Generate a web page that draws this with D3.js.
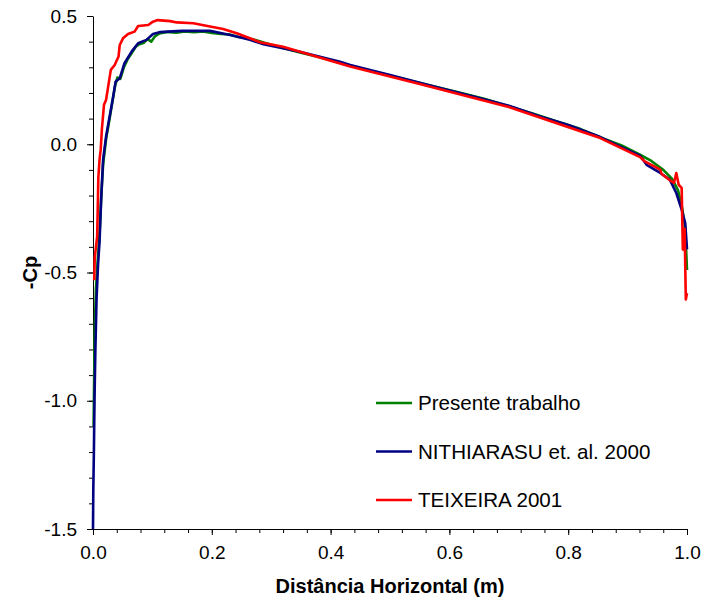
<!DOCTYPE html>
<html><head><meta charset="utf-8">
<script src="https://cdn.jsdelivr.net/npm/d3@7"></script>
<style>body{margin:0;background:#fff}svg{display:block;font-family:Arial,"Liberation Sans",sans-serif}</style>
</head><body>
<svg id="c" width="701" height="607"></svg>
<script>
const seriesNames = ["Presente trabalho", "NITHIARASU et. al. 2000", "TEIXEIRA 2001"];
const seriesColors = ["#008000", "#000080", "#ff0000"];
const xTickLabels = ["0.0","0.2","0.4","0.6","0.8","1.0"];
const yTickLabels = ["-1.5","-1.0","-0.5","0.0","0.5"];

const presenteX = [0.001,0.002,0.003,0.005,0.008,0.011,0.014,0.017,0.022,0.028,0.033,0.037,0.041,0.046,0.052,0.058,0.065,0.072,0.078,0.085,0.092,0.098,0.104,0.112,0.125,0.14,0.155,0.17,0.185,0.2,0.215,0.23,0.245,0.26,0.275,0.29,0.32,0.35,0.38,0.42,0.46,0.5,0.54,0.58,0.62,0.66,0.7,0.74,0.78,0.82,0.86,0.89,0.92,0.94,0.96,0.975,0.985,0.992,0.997,1.0];
const presenteY = [-1.1,-0.9,-0.72,-0.56,-0.45,-0.35,-0.2,-0.08,0.02,0.1,0.17,0.225,0.26,0.255,0.3,0.33,0.355,0.38,0.39,0.395,0.41,0.40,0.42,0.432,0.438,0.435,0.44,0.437,0.44,0.434,0.43,0.428,0.418,0.415,0.405,0.395,0.375,0.357,0.34,0.315,0.29,0.268,0.245,0.222,0.2,0.176,0.148,0.12,0.09,0.06,0.022,-0.005,-0.04,-0.065,-0.1,-0.135,-0.18,-0.25,-0.33,-0.49];

const nithiX = [0,0.0005,0.0015,0.0025,0.004,0.006,0.0085,0.011,0.014,0.017,0.022,0.028,0.034,0.038,0.045,0.053,0.065,0.076,0.09,0.101,0.112,0.126,0.15,0.197,0.231,0.264,0.287,0.348,0.416,0.433,0.5,0.584,0.65,0.7,0.753,0.8,0.854,0.887,0.921,0.932,0.955,0.971,0.982,0.991,0.997,1.0];
const nithiY = [-1.5,-1.35,-1.2,-1.0,-0.8,-0.6,-0.47,-0.38,-0.2,-0.06,0.03,0.108,0.186,0.244,0.257,0.316,0.361,0.394,0.407,0.43,0.437,0.439,0.442,0.442,0.426,0.407,0.39,0.361,0.322,0.309,0.27,0.219,0.18,0.15,0.108,0.075,0.028,-0.008,-0.045,-0.08,-0.112,-0.138,-0.19,-0.255,-0.307,-0.41];

const teixX = [0.002,0.003,0.005,0.007,0.008,0.009,0.011,0.013,0.015,0.0185,0.022,0.03,0.0365,0.043,0.045,0.0505,0.059,0.07,0.076,0.093,0.101,0.109,0.13,0.141,0.169,0.197,0.219,0.242,0.264,0.281,0.32,0.433,0.55,0.7,0.854,0.921,0.929,0.955,0.957,0.974,0.978,0.982,0.986,0.991,0.992,0.993,0.996,0.998,1.0];
const teixY = [-0.53,-0.44,-0.40,-0.36,-0.25,-0.13,-0.06,-0.02,0.06,0.154,0.173,0.29,0.309,0.342,0.387,0.413,0.43,0.439,0.461,0.465,0.478,0.484,0.48,0.475,0.472,0.459,0.449,0.433,0.413,0.398,0.38,0.303,0.235,0.145,0.024,-0.05,-0.067,-0.099,-0.115,-0.145,-0.151,-0.112,-0.158,-0.17,-0.294,-0.41,-0.33,-0.605,-0.58];

const seriesX = [presenteX, nithiX, teixX];
const seriesY = [presenteY, nithiY, teixY];

const svg = d3.select("#c");
const m = {l:93, r:14, t:16, b:78};
const W = 701, H = 607;
const x = d3.scaleLinear().domain([0,1]).range([m.l, W-m.r]);
const y = d3.scaleLinear().domain([-1.5,0.5]).range([H-m.b, m.t]);

// minor ticks
const xMinor = d3.range(0,1.0001,0.04);
const yMinor = d3.range(-1.5,0.5001,0.1);
svg.append("g").attr("transform",`translate(0,${H-m.b})`)
  .call(d3.axisBottom(x).tickValues(xMinor).tickSize(4).tickFormat(""))
  .call(g=>g.select(".domain").remove());
svg.append("g").attr("transform",`translate(${m.l},0)`)
  .call(d3.axisLeft(y).tickValues(yMinor).tickSize(4).tickFormat(""))
  .call(g=>g.select(".domain").remove());

const xa = svg.append("g").attr("transform",`translate(0,${H-m.b})`)
  .call(d3.axisBottom(x).tickValues([0,0.2,0.4,0.6,0.8,1.0]).tickSize(6).tickSizeOuter(0).tickPadding(10)
    .tickFormat((d,i)=>xTickLabels[i]));
const ya = svg.append("g").attr("transform",`translate(${m.l},0)`)
  .call(d3.axisLeft(y).tickValues([-1.5,-1.0,-0.5,0,0.5]).tickSize(6).tickSizeOuter(0).tickPadding(10)
    .tickFormat((d,i)=>yTickLabels[i]));
[xa,ya].forEach(a=>{a.selectAll("text").attr("font-size",19).attr("fill","#000").attr("font-family","Arial, 'Liberation Sans', sans-serif");
  a.selectAll("line,path").attr("stroke","#000");});
xa.selectAll("text").attr("dy","0.75em");

const line = d3.line().x(d=>x(d[0])).y(d=>y(d[1]));
seriesX.forEach((xs,i)=>{
  const pts = xs.map((v,j)=>[v, seriesY[i][j]]);
  svg.append("path").datum(pts).attr("d",line).attr("fill","none")
    .attr("stroke",seriesColors[i]).attr("stroke-width",2.6).attr("stroke-linejoin","round");
});

// legend
const lg = svg.append("g");
seriesNames.forEach((n,i)=>{
  const yy = 403 + i*48.5;
  lg.append("line").attr("x1",376).attr("x2",412).attr("y1",yy).attr("y2",yy)
    .attr("stroke",seriesColors[i]).attr("stroke-width",2.5);
  lg.append("text").attr("x",418).attr("y",yy).attr("dy","0.35em").attr("font-size",20.6).text(n);
});

svg.append("text").attr("x",(m.l+W-m.r)/2).attr("y",593).attr("text-anchor","middle")
  .attr("font-size",20).attr("font-weight","bold").text("Distância Horizontal (m)");
svg.append("text").attr("transform",`translate(37,${(m.t+H-m.b)/2}) rotate(-90)`).attr("text-anchor","middle")
  .attr("font-size",20).attr("font-weight","bold").text("-Cp");
</script>
</body></html>
